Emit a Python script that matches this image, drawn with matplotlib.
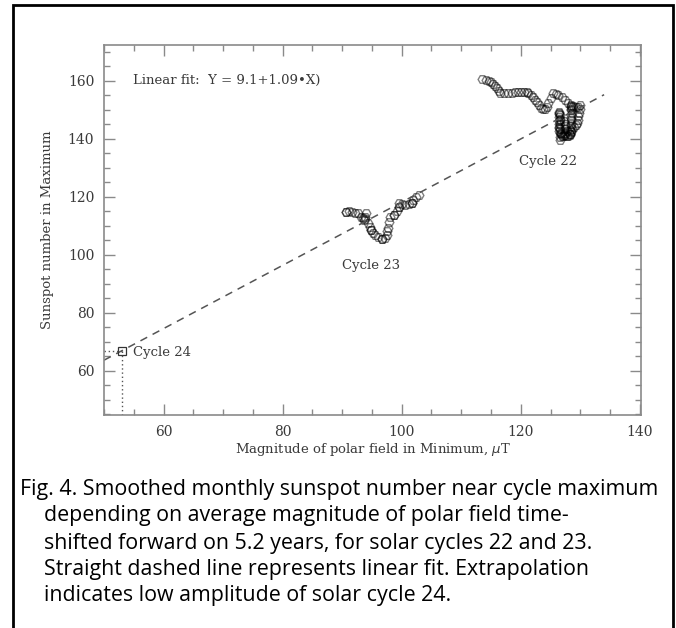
import matplotlib
matplotlib.use("Agg")

import matplotlib.pyplot as plt
import matplotlib.patches as mpatches
from matplotlib.ticker import MultipleLocator

# ---------------------------------------------------------------------------
# Data
# ---------------------------------------------------------------------------

# Cycle 23 track: polar field (uT) vs smoothed sunspot number
x23 = [90.6, 90.6, 91.2, 91.7, 92.2, 92.6, 93.1, 93.5, 93.7, 93.9, 94.0, 93.8,
       94.3, 94.6, 94.8, 94.8, 95.2, 95.6, 96.1, 96.7, 96.7, 97.2, 97.6, 97.6,
       97.7, 97.8, 98.1, 98.7, 98.7, 99.2, 99.5, 99.5, 99.6, 100.1, 100.6,
       101.2, 101.8, 101.8, 101.9, 102.4, 102.9]
y23 = [114.8, 114.8, 114.9, 114.8, 114.5, 114.3, 113.1, 112.5, 112.0, 112.4,
       114.3, 113.0, 110.8, 109.6, 108.5, 108.5, 107.6, 106.8, 106.0, 105.3,
       105.3, 105.8, 106.8, 108.0, 109.1, 111.4, 113.1, 113.7, 113.7, 115.0,
       116.6, 116.6, 117.8, 117.4, 117.2, 117.5, 117.8, 117.8, 119.0, 120.0,
       120.6]

# Cycle 22 track
x22 = [113.5, 114.1, 114.6, 115.0, 115.4, 115.7, 116.0, 116.3, 116.6, 117.2,
       117.8, 118.5, 119.1, 119.5, 120.0, 120.5, 121.0, 121.3, 121.8, 122.1,
       122.4, 122.7, 123.0, 123.4, 123.8, 124.1, 124.4, 124.6, 125.0, 125.5,
       126.0, 126.3, 126.9, 127.4, 128.0, 128.4, 128.8, 129.3, 129.7, 130.0,
       129.9, 129.8, 129.7, 129.6, 129.5, 129.2, 128.9, 128.6, 128.5, 128.3,
       127.8, 127.3, 126.8, 126.5, 126.5, 126.5, 126.5, 126.5, 126.5, 126.5,
       126.6, 126.6, 126.6, 126.6, 126.6, 126.6, 126.6, 127.0, 127.4, 127.4,
       127.4, 127.3, 127.5, 127.8, 128.2, 128.5, 128.5, 128.5, 128.5, 128.5,
       128.5, 128.6, 128.5, 128.4, 128.3, 128.2, 127.9, 127.5, 127.1, 126.7,
       126.5, 126.6, 126.5, 128.4, 128.5]
y22 = [160.6, 160.3, 160.0, 159.6, 158.9, 158.2, 157.4, 156.6, 155.8, 155.6,
       155.7, 155.9, 156.1, 156.2, 156.2, 156.2, 156.0, 155.9, 155.1, 154.3,
       153.4, 152.5, 151.6, 150.7, 150.1, 150.1, 151.0, 152.2, 154.0, 155.7,
       155.5, 155.0, 154.2, 153.4, 152.4, 151.6, 151.1, 151.0, 151.0, 151.5,
       150.2, 149.0, 147.8, 146.6, 145.4, 144.7, 144.0, 143.5, 142.3, 141.2,
       141.0, 141.2, 141.5, 142.5, 143.8, 145.0, 146.2, 147.4, 148.6, 149.3,
       148.0, 146.5, 145.0, 143.5, 142.0, 140.5, 139.6, 140.8, 142.0, 143.5,
       145.0, 146.0, 144.5, 142.5, 141.5, 142.8, 144.5, 146.3, 148.0, 149.8,
       151.2, 149.0, 147.0, 145.0, 143.0, 141.5, 141.0, 141.3, 141.0, 141.8,
       144.0, 146.8, 149.0, 150.4, 150.9]

# Cycle 24 prediction
x24 = [53.0]
y24 = [66.9]

# Linear fit Y = a + b*X and the span it is drawn over
fit_a = 9.1
fit_b = 1.09
fit_x = [50.0, 134.0]

caption_lines = [
    "Fig. 4. Smoothed monthly sunspot number near cycle maximum",
    "depending on average magnitude of polar field time-",
    "shifted forward on 5.2 years, for solar cycles 22 and 23.",
    "Straight dashed line represents linear fit. Extrapolation",
    "indicates low amplitude of solar cycle 24.",
]

AXIS_GRAY = "#8a8a8a"
TEXT_DARK = "#3a3a3a"
SERIF = "DejaVu Serif"

# ---------------------------------------------------------------------------
# Figure
# ---------------------------------------------------------------------------

W, H = 676, 628
fig = plt.figure(figsize=(W / 100, H / 100), dpi=100, facecolor="white")
ax = fig.add_axes([104 / W, 1 - 415 / H, 537 / W, 370 / H])

ax.set_xlim(50, 140.2)
ax.set_ylim(44.7, 172.3)

marker_kw = dict(linestyle="none", marker="H", markersize=6.3,
                 markerfacecolor="none", markeredgecolor="black",
                 markeredgewidth=1.0, alpha=0.5)
ax.plot(x23, y23, **marker_kw)
ax.plot(x22, y22, **marker_kw)

# fit line
fit_y = [fit_a + fit_b * v for v in fit_x]
ax.plot(fit_x, fit_y, color="#555555", lw=1.1, linestyle=(0, (5, 4)))

# cycle 24 square and dotted guides
ax.plot(x24, y24, linestyle="none", marker="s", markersize=6,
        markerfacecolor="none", markeredgecolor="#333333", markeredgewidth=0.9)
ax.plot([50, x24[0]], [y24[0], y24[0]], color="#555555", lw=1, linestyle=(0, (1, 2)))
ax.plot([x24[0], x24[0]], [44.7, y24[0]], color="#555555", lw=1, linestyle=(0, (1, 2)))

# annotations
txt_kw = dict(family=SERIF, fontsize=9.5, color=TEXT_DARK)
ax.text(54.9, 160, "Linear fit:  Y = 9.1+1.09\u2022X)", ha="left", va="center", **txt_kw)
ax.text(124.6, 132.1, "Cycle 22", ha="center", va="center", **txt_kw)
ax.text(94.85, 96.4, "Cycle 23", ha="center", va="center", **txt_kw)
ax.text(54.9, 66.2, "Cycle 24", ha="left", va="center", **txt_kw)

# axes style
ax.xaxis.set_major_locator(MultipleLocator(20))
ax.xaxis.set_minor_locator(MultipleLocator(5))
ax.yaxis.set_major_locator(MultipleLocator(20))
ax.yaxis.set_minor_locator(MultipleLocator(5))
ax.tick_params(which="both", direction="in", top=True, right=True,
               color=AXIS_GRAY, width=1)
ax.tick_params(which="major", length=8, labelsize=10, labelcolor=TEXT_DARK, pad=7)
ax.tick_params(which="minor", length=4)
for lab in ax.get_xticklabels() + ax.get_yticklabels():
    lab.set_family(SERIF)
for sp in ax.spines.values():
    sp.set_color(AXIS_GRAY)
    sp.set_linewidth(1.2)

ax.set_xlabel("Magnitude of polar field in Minimum, $\\mu$T", family=SERIF,
              fontsize=9.5, color=TEXT_DARK, labelpad=2)
ax.set_ylabel("Sunspot number in Maximum", family=SERIF, fontsize=9.5,
              color=TEXT_DARK, labelpad=10)

# outer frame
fig.add_artist(mpatches.Rectangle((13 / W, -0.05), (673 - 13) / W, 1.05 - 5 / H,
                                  transform=fig.transFigure, fill=False,
                                  edgecolor="black", lw=2, clip_on=False))

# caption
cap_y = [490, 516, 543, 569, 596]
for i, (line, yy) in enumerate(zip(caption_lines, cap_y)):
    x0 = 20 if i == 0 else 44
    fig.text(x0 / W, 1 - yy / H, line, ha="left", va="center",
             family="Open Sans", fontsize=15.4, color="black")

fig.savefig("out.png", dpi=100, facecolor="white")
